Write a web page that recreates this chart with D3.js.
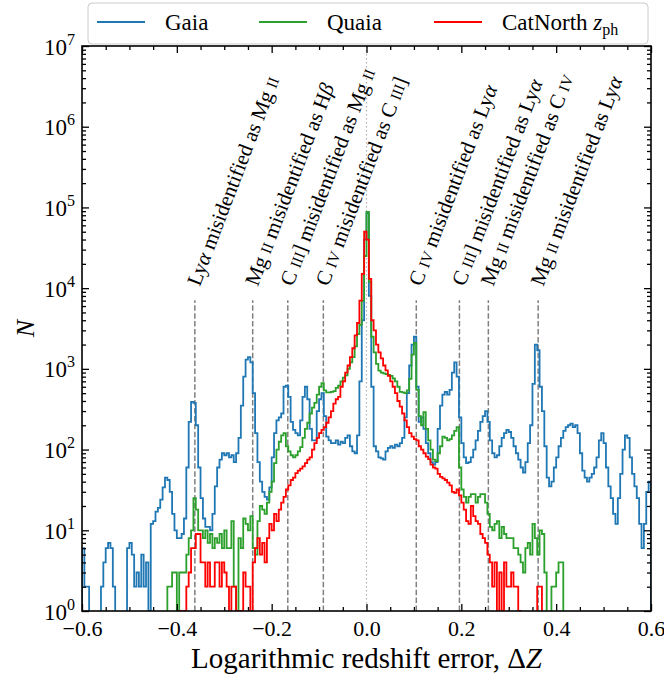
<!DOCTYPE html>
<html><head><meta charset="utf-8">
<script src="https://cdn.jsdelivr.net/npm/d3@7"></script>
<style>
body{margin:0;background:#fff}
svg{display:block}
text{font-family:"Liberation Serif","Times New Roman",serif;fill:#000;white-space:pre}
</style>
</head><body>
<svg id="chart" width="664" height="677"></svg>
<script>
// ---------------- data ----------------
const binStart = -0.6;
const binWidth = 0.005;
const binCount = 240;

const gaiaCounts = [
 6,2,2,0,0,0,0,0,2,4,
 6,7,6,2,0,0,0,0,0,6,
 7,5,2,3,2,5,2,4,1,12,
 13,17,19,24,34,45,42,30,16,10,
 8,8,9,14,60,220,390,380,200,60,
 25,14,11,11,10,16,35,60,75,90,
 85,90,80,85,70,90,140,350,800,1300,
 1400,1200,500,160,70,40,30,26,24,34,
 80,160,230,250,280,600,620,450,220,175,
 160,150,230,450,600,420,180,130,130,300,
 420,500,260,145,130,120,120,130,115,125,
 120,140,150,110,95,90,150,700,4000,40000,
 85000,8000,600,110,95,80,78,75,95,105,
 110,105,115,110,120,140,250,500,1100,2000,
 2500,600,220,250,180,120,90,70,65,70,
 180,350,480,520,480,550,900,1200,800,250,
 120,80,68,70,80,100,130,170,220,260,
 300,220,130,90,80,85,110,140,160,175,
 165,140,110,90,75,60,52,70,120,200,
 650,2000,1700,600,300,110,45,35,40,60,
 80,110,140,170,190,200,210,190,200,160,
 90,55,45,40,45,50,60,80,130,160,
 120,60,35,25,16,12,25,50,100,150,
 140,80,50,35,25,12,6,12,30,40
];

const quaiaCounts = [
 0,0,0,0,0,0,0,0,0,0,
 0,0,0,0,0,0,0,0,0,0,
 0,0,0,0,0,0,0,0,0,0,
 0,0,0,0,0,0,2,2,3,3,
 1,3,3,3,5,8,10,25,18,10,
 10,8,10,7,9,6,8,7,9,6,
 10,6,6,13,2,1,8,6,14,12,
 10,15,6,5,13,20,18,16,22,30,
 40,68,100,125,150,160,110,95,85,80,
 85,95,107,140,180,215,280,330,380,480,
 600,665,540,510,510,520,530,580,620,700,
 780,830,1000,1200,1400,1900,2700,3500,7000,25000,
 88000,12000,2500,1600,1150,950,900,880,860,840,
 820,760,700,600,520,510,500,540,750,1500,
 2100,550,260,200,290,180,130,100,75,72,
 90,110,145,140,130,135,150,170,190,60,
 32,26,22,26,28,28,22,26,28,28,
 22,16,11,10,12,13,8,11,9,8,
 8,8,6,6,5,4,3,6,7,5,
 12,8,5,10,9,3,0,0,2,2,
 3,4,4,0,0,0,0,0,0,0,
 0,0,0,0,0,0,0,0,0,0,
 0,0,0,0,0,0,0,0,0,0,
 0,0,0,0,0,0,0,0,0,0
];

const catnorthCounts = [
 0,0,0,0,0,0,0,0,0,0,
 0,0,0,0,0,0,0,0,0,0,
 0,0,0,0,0,0,0,0,0,0,
 0,0,0,0,0,0,0,0,0,0,
 0,1,0,1,2,3,6,6,9,9,
 4,4,2,4,2,2,4,4,2,4,
 3,2,0,2,2,1,0,1,3,2,
 2,0,4,6,8,5,7,4,8,12,
 10,16,13,18,22,26,32,36,42,45,
 51,55,58,62,68,75,80,100,120,140,
 160,175,190,215,250,300,370,420,450,600,
 700,900,1100,1400,1800,2600,3700,7000,15000,50000,
 40000,13000,4000,3000,2000,1600,1350,1100,960,820,
 700,600,500,400,340,280,230,190,160,145,
 135,130,110,100,90,82,76,65,60,58,
 50,46,44,42,39,36,30,29,32,27,
 22,18,13,12,20,15,13,12,9,8,
 7,5,4,2,4,0,3,1,4,2,
 2,3,2,2,1,0,0,0,0,0,
 0,0,2,2,0,0,0,0,0,0,
 0,0,0,0,0,0,0,0,0,0,
 0,0,0,0,0,0,0,0,0,0,
 0,0,0,0,0,0,0,0,0,0,
 0,0,0,0,0,0,0,0,0,0
];

const seriesNames = ["Gaia", "Quaia", "CatNorth {z}"];
const seriesSubscripts = ["", "", "ph"];
const seriesColors = ["#1f77b4", "#2ca02c", "#ff0000"];

// offsets log10(lambda_true / lambda_assumed)
const lineOffsets = [-0.362, -0.240, -0.166, -0.091, 0.105, 0.196, 0.257, 0.362];
const lineLabels = [
 "Ly{α} misidentified as Mg ~II~",
 "Mg ~II~ misidentified as H{β}",
 "C ~III~] misidentified as Mg ~II~",
 "C ~IV~ misidentified as C ~III~]",
 "C ~IV~ misidentified as Ly{α}",
 "C ~III~] misidentified as Ly{α}",
 "Mg ~II~ misidentified as C ~IV~",
 "Mg ~II~ misidentified as Ly{α}"
];

const xMajorTicks = [-0.6, -0.4, -0.2, 0.0, 0.2, 0.4, 0.6];
const yDecadeExponents = [0, 1, 2, 3, 4, 5, 6, 7];
const xAxisLabel = "Logarithmic redshift error, Δ{Z}";
const yAxisLabel = "N";

// ---------------- layout ----------------
const L = 82, R = 651, T = 46, B = 611;
const svg = d3.select("#chart");
const x = d3.scaleLinear().domain([-0.6, 0.6]).range([L, R]);
const y = d3.scaleLog().domain([1, 1e7]).range([B, T]);

const binEdges = d3.range(binCount + 1).map(i => +(binStart + i * binWidth).toFixed(4));

svg.append("defs").append("clipPath").attr("id", "plotclip")
  .append("rect").attr("x", L).attr("y", T).attr("width", R - L).attr("height", B - T);

const plot = svg.append("g").attr("clip-path", "url(#plotclip)");

// center dotted line
plot.append("line")
  .attr("x1", x(0)).attr("x2", x(0)).attr("y1", T).attr("y2", B)
  .attr("stroke", "#b0b0b0").attr("stroke-width", 1.2).attr("stroke-dasharray", "1.5,2.5");

// dashed misidentification lines (to 55% of the axes height)
const yTopFrac = B - 0.55 * (B - T);
plot.selectAll("line.mis").data(lineOffsets).join("line").attr("class", "mis")
  .attr("x1", d => x(d)).attr("x2", d => x(d))
  .attr("y1", B).attr("y2", yTopFrac)
  .attr("stroke", "#808080").attr("stroke-width", 1.5).attr("stroke-dasharray", "5.5,2.4");

// step histograms
function stepPoints(counts) {
  const below = B + 20;
  const yv = c => c > 0 ? y(c) : below;
  const pts = [[x(binEdges[0]), below]];
  counts.forEach((c, i) => {
    pts.push([x(binEdges[i]), yv(c)]);
    pts.push([x(binEdges[i + 1]), yv(c)]);
  });
  pts.push([x(binEdges[binCount]), below]);
  return pts;
}
const line = d3.line();
[gaiaCounts, quaiaCounts, catnorthCounts].forEach((counts, i) => {
  plot.append("path").attr("d", line(stepPoints(counts)))
    .attr("fill", "none").attr("stroke", seriesColors[i])
    .attr("stroke-width", 1.8).attr("stroke-linejoin", "miter");
});

// ---------------- axes ----------------
const xMinorTicks = d3.range(-0.6, 0.6001, 0.05).map(v => +v.toFixed(2))
  .filter(v => !xMajorTicks.some(m => Math.abs(m - v) < 1e-6));
const yMajor = yDecadeExponents.map(e => Math.pow(10, e));
const yMinor = [];
yDecadeExponents.slice(0, -1).forEach(e => { for (let k = 2; k <= 9; k++) yMinor.push(k * Math.pow(10, e)); });

function styleAxis(g) {
  g.select(".domain").remove();
  g.selectAll(".tick line").attr("stroke", "#000").attr("stroke-width", 1.3);
}

svg.append("g").attr("transform", `translate(0,${B})`)
  .call(d3.axisBottom(x).tickValues(xMajorTicks).tickSizeInner(-7).tickSizeOuter(0).tickPadding(9)
    .tickFormat(d3.format(".1f")))
  .call(styleAxis)
  .call(g => g.selectAll("text").attr("font-size", 22).attr("font-family", "Liberation Serif"));
svg.append("g").attr("transform", `translate(0,${B})`)
  .call(d3.axisBottom(x).tickValues(xMinorTicks).tickSizeInner(-4).tickSizeOuter(0).tickFormat(""))
  .call(styleAxis);
svg.append("g").attr("transform", `translate(0,${T})`)
  .call(d3.axisTop(x).tickValues(xMajorTicks).tickSizeInner(-7).tickSizeOuter(0).tickFormat(""))
  .call(styleAxis);
svg.append("g").attr("transform", `translate(0,${T})`)
  .call(d3.axisTop(x).tickValues(xMinorTicks).tickSizeInner(-4).tickSizeOuter(0).tickFormat(""))
  .call(styleAxis);

const yAxisL = svg.append("g").attr("transform", `translate(${L},0)`)
  .call(d3.axisLeft(y).tickValues(yMajor).tickSizeInner(-7).tickSizeOuter(0).tickFormat(""))
  .call(styleAxis);
svg.append("g").attr("transform", `translate(${L},0)`)
  .call(d3.axisLeft(y).tickValues(yMinor).tickSizeInner(-4).tickSizeOuter(0).tickFormat(""))
  .call(styleAxis);
svg.append("g").attr("transform", `translate(${R},0)`)
  .call(d3.axisRight(y).tickValues(yMajor).tickSizeInner(-7).tickSizeOuter(0).tickFormat(""))
  .call(styleAxis);
svg.append("g").attr("transform", `translate(${R},0)`)
  .call(d3.axisRight(y).tickValues(yMinor).tickSizeInner(-4).tickSizeOuter(0).tickFormat(""))
  .call(styleAxis);

// y tick labels 10^k
yAxisL.selectAll(".tick").each(function(d) {
  const t = d3.select(this).append("text")
    .attr("x", -7).attr("y", 8).attr("text-anchor", "end").attr("font-size", 23);
  t.append("tspan").text("10");
  t.append("tspan").attr("font-size", 16).attr("dy", -10).text(String(Math.round(Math.log10(d))));
});

// frame
svg.append("rect").attr("x", L).attr("y", T).attr("width", R - L).attr("height", B - T)
  .attr("fill", "none").attr("stroke", "#000").attr("stroke-width", 1.6);

// rich text helper: {..} italic, ~..~ small caps
function richText(sel, str, size) {
  str.split(/(~[^~]+~|\{[^}]+\})/).filter(s => s.length).forEach(p => {
    if (p[0] === "~") sel.append("tspan").attr("font-size", size * 0.74).text(p.slice(1, -1));
    else if (p[0] === "{") sel.append("tspan").attr("font-style", "italic").text(p.slice(1, -1));
    else sel.append("tspan").text(p);
  });
}

// annotation labels
lineOffsets.forEach((off, i) => {
  const t = svg.append("text")
    .attr("transform", `translate(${x(off) + 5},${287}) rotate(-69)`)
    .attr("font-size", 21).attr("text-anchor", "start");
  richText(t, lineLabels[i], 21);
});

// axis labels
const xl = svg.append("text").attr("x", (L + R) / 2).attr("y", 668)
  .attr("text-anchor", "middle").attr("font-size", 29);
richText(xl, xAxisLabel, 29);
svg.append("text").attr("transform", `translate(34,${(T + B) / 2}) rotate(-90)`)
  .attr("text-anchor", "middle").attr("font-size", 26).attr("font-style", "italic").text(yAxisLabel);

// legend
const leg = svg.append("g");
leg.append("rect").attr("x", 88).attr("y", 3).attr("width", 560).attr("height", 41).attr("rx", 4)
  .attr("fill", "#fff").attr("fill-opacity", 0.8).attr("stroke", "#cccccc").attr("stroke-width", 1);
const legX = [97, 259, 434];
seriesNames.forEach((name, i) => {
  leg.append("line").attr("x1", legX[i]).attr("x2", legX[i] + 48).attr("y1", 22).attr("y2", 22)
    .attr("stroke", seriesColors[i]).attr("stroke-width", 2);
  const t = leg.append("text").attr("x", legX[i] + 68).attr("y", 30).attr("font-size", 23);
  richText(t, name, 23);
  if (seriesSubscripts[i]) t.append("tspan").attr("font-size", 16).attr("dy", 5).text(seriesSubscripts[i]);
});
</script>
</body></html>
